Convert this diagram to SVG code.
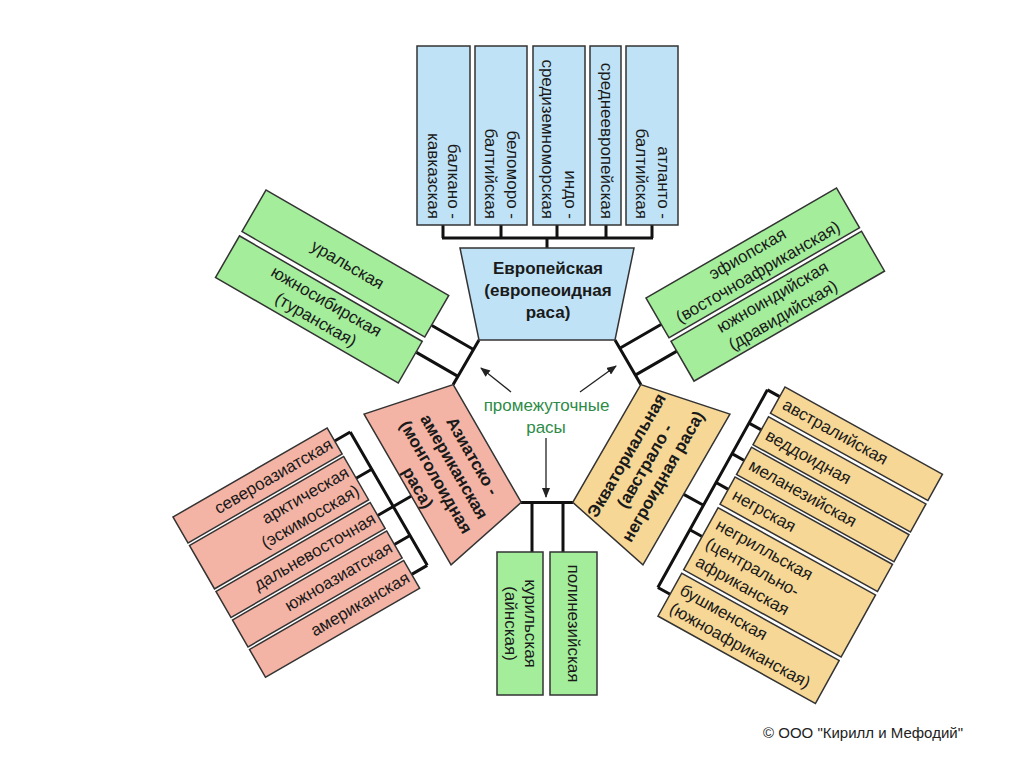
<svg xmlns="http://www.w3.org/2000/svg" width="1024" height="767" viewBox="0 0 1024 767">
<defs>
<style>
.bl{fill:#bfe2f6;stroke:#333;stroke-width:1.5}
.gr{fill:#a3ed9b;stroke:#333;stroke-width:1.5}
.pk{fill:#f4b4a5;stroke:#333;stroke-width:1.5}
.ye{fill:#f7d796;stroke:#333;stroke-width:1.5}
.t{font-family:"Liberation Sans",Arial,sans-serif;font-size:17px;fill:#1a1a1a;dominant-baseline:central}
.tb{font-weight:bold}
.m{text-anchor:middle}
.e{text-anchor:end}
.c{stroke:#111;stroke-width:3;fill:none}
.a{stroke:#222;stroke-width:1.3;fill:none;marker-end:url(#ah)}
</style>
<marker id="ah" markerWidth="10" markerHeight="8" refX="9" refY="4" orient="auto" markerUnits="userSpaceOnUse"><path d="M0,0 L10,4 L0,8 z" fill="#222"/></marker>
</defs>
<rect width="1024" height="767" fill="#fff"/>

<g id="connectors">
  <!-- Europe bracket -->
  <path class="c" d="M442,238 H653 M443,225 V238 M501,225 V238 M557,225 V238 M606,225 V238 M652,225 V238 M547,238 V248"/>
  <!-- junctions between main races -->
  <path class="c" d="M479,340 L453.2,384.6 M615,340 L640.8,384.6 M521,502.4 H573.2"/>
  <!-- intermediate ticks -->
  <path class="c" d="M473.5,349.5 L431.9,325.5 M458,376.4 L416.4,352.4"/>
  <path class="c" d="M635.3,375.1 L676.9,351.1 M619.8,348.2 L661.4,324.2"/>
  <path class="c" d="M532,502.4 V553 M563,502.4 V553"/>
  <!-- Asian bracket -->
  <g transform="translate(173,517) rotate(-30)">
    <path class="c" d="M196,15 V169 M178,15 H196 M178,58 H196 M178,101 H196 M178,134.5 H196 M178,169 H196 M196,101 H217"/>
  </g>
  <!-- Equatorial bracket -->
  <g transform="translate(785,387) rotate(29)">
    <path class="c" d="M-14,11 V237 M-14,11 H0 M-14,49 H0 M-14,84 H0 M-14,117 H0 M-14,171 H0 M-14,237 H0 M-14,143 H-37"/>
  </g>
  <!-- arrows -->
  <path class="a" d="M511,392 L481,368"/>
  <path class="a" d="M580,392 L616,366"/>
  <path class="a" d="M546,438 V497"/>
</g>

<g id="europe-subraces">
  <rect class="bl" x="417" y="46" width="53" height="179"/>
  <rect class="bl" x="475" y="46" width="52" height="179"/>
  <rect class="bl" x="533" y="46" width="52" height="179"/>
  <rect class="bl" x="590" y="46" width="31" height="179"/>
  <rect class="bl" x="626" y="46" width="52" height="179"/>
  <text class="t e" transform="translate(453,219) rotate(90)">балкано -</text>
  <text class="t e" transform="translate(433,219) rotate(90)">кавказская</text>
  <text class="t e" transform="translate(512,219) rotate(90)">беломоро -</text>
  <text class="t e" transform="translate(490,219) rotate(90)">балтийская</text>
  <text class="t e" transform="translate(570,219) rotate(90)">индо -</text>
  <text class="t e" transform="translate(547,219) rotate(90)">средиземноморская</text>
  <text class="t e" transform="translate(606,219) rotate(90)">среднеевропейская</text>
  <text class="t e" transform="translate(663,219) rotate(90)">атланто -</text>
  <text class="t e" transform="translate(641,219) rotate(90)">балтийская</text>
</g>

<g id="europe">
  <polygon class="bl" points="460,248 634,248 615,340 479,340"/>
  <text class="t tb m" x="548" y="268">Европейская</text>
  <text class="t tb m" x="548" y="290">(европеоидная</text>
  <text class="t tb m" x="548" y="312">раса)</text>
</g>

<g id="asian">
  <polygon class="pk" points="460,248 634,248 615,340 479,340" transform="rotate(-120 547 409)"/>
  <g transform="translate(445,472) rotate(60)">
    <text class="t tb m" x="0" y="-31.5">Азиатско -</text>
    <text class="t tb m" x="0" y="-10.5">американская</text>
    <text class="t tb m" x="0" y="10.5">(монголоидная</text>
    <text class="t tb m" x="0" y="31.5">раса)</text>
  </g>
</g>

<g id="equatorial">
  <polygon class="ye" points="460,248 634,248 615,340 479,340" transform="rotate(120 547 409)"/>
  <g transform="translate(645,466) rotate(-60)">
    <text class="t tb m" x="0" y="-21">Экваториальная</text>
    <text class="t tb m" x="0" y="0">(австрало -</text>
    <text class="t tb m" x="0" y="21">негроидная раса)</text>
  </g>
</g>

<g id="intermediate-left" transform="translate(266,190) rotate(30)">
  <rect class="gr" x="0" y="0" width="211" height="48"/>
  <rect class="gr" x="0" y="53" width="211" height="48"/>
  <text class="t m" x="108" y="24">уральская</text>
  <text class="t m" x="108" y="66.5">южносибирская</text>
  <text class="t m" x="108" y="87.5">(туранская)</text>
</g>

<g id="intermediate-right" transform="translate(646,298) rotate(-30)">
  <rect class="gr" x="0" y="0" width="220" height="46"/>
  <rect class="gr" x="0" y="50" width="220" height="46"/>
  <text class="t m" x="110" y="12.5">эфиопская</text>
  <text class="t m" x="110" y="33.5">(восточноафриканская)</text>
  <text class="t m" x="110" y="62.5">южноиндийская</text>
  <text class="t m" x="110" y="83.5">(дравидийская)</text>
</g>

<g id="intermediate-bottom">
  <rect class="gr" x="497" y="552" width="46" height="143"/>
  <rect class="gr" x="550" y="552" width="47" height="143"/>
  <text class="t m" transform="translate(530,623.5) rotate(90)">курильская</text>
  <text class="t m" transform="translate(510,623.5) rotate(90)">(айнская)</text>
  <text class="t m" transform="translate(573.5,623.5) rotate(90)">полинезийская</text>
</g>

<g id="asian-subraces" transform="translate(173,517) rotate(-30)">
  <rect class="pk" x="0" y="0" width="178" height="30"/>
  <rect class="pk" x="0" y="33" width="178" height="50"/>
  <rect class="pk" x="0" y="86" width="178" height="30"/>
  <rect class="pk" x="0" y="119" width="178" height="31"/>
  <rect class="pk" x="0" y="153" width="178" height="32"/>
  <text class="t e" x="174" y="15">североазиатская</text>
  <text class="t e" x="174" y="47.5">арктическая</text>
  <text class="t e" x="174" y="68.5">(эскимосская)</text>
  <text class="t e" x="174" y="101">дальневосточная</text>
  <text class="t e" x="174" y="134.5">южноазиатская</text>
  <text class="t e" x="174" y="169">американская</text>
</g>

<g id="equatorial-subraces" transform="translate(785,387) rotate(29)">
  <rect class="ye" x="0" y="0" width="180" height="30"/>
  <rect class="ye" x="0" y="34" width="180" height="32"/>
  <rect class="ye" x="0" y="69" width="180" height="31"/>
  <rect class="ye" x="0" y="103" width="180" height="31"/>
  <rect class="ye" x="0" y="138" width="180" height="71"/>
  <rect class="ye" x="0" y="213" width="180" height="49"/>
  <text class="t" x="7" y="15">австралийская</text>
  <text class="t" x="7" y="50">веддоидная</text>
  <text class="t" x="7" y="84.5">меланезийская</text>
  <text class="t" x="7" y="118.5">негрская</text>
  <text class="t" x="7" y="152.5">негрилльская</text>
  <text class="t" x="7" y="173.5">(центрально-</text>
  <text class="t" x="7" y="194.5">африканская</text>
  <text class="t" x="7" y="227">бушменская</text>
  <text class="t" x="7" y="248">(южноафриканская)</text>
</g>

<g id="intermediate-label">
  <text class="t m" x="546.5" y="405" style="fill:#2e8b47">промежуточные</text>
  <text class="t m" x="546" y="427" style="fill:#2e8b47">расы</text>
</g>

<text x="763" y="738" style="font-family:'Liberation Sans',Arial,sans-serif;font-size:15px;fill:#222">© ООО "Кирилл и Мефодий"</text>
</svg>
